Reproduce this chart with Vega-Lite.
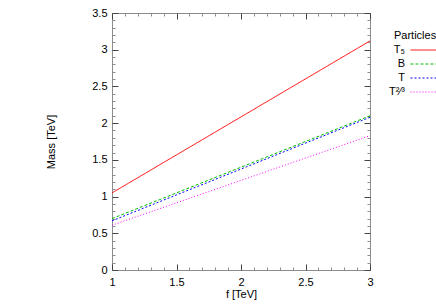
{
  "$schema": "https://vega.github.io/schema/vega-lite/v6.json",
  "width": 258,
  "height": 257,
  "autosize": "none",
  "padding": {"left": 112, "top": 13, "right": 66, "bottom": 35},
  "config": {
    "font": "Liberation Sans",
    "view": {"stroke": "#8c8c8c", "strokeWidth": 1},
    "axis": {"labelFontSize": 11, "titleFontSize": 11, "titleFontWeight": "normal", "labelColor": "#000", "titleColor": "#000", "domain": false, "grid": false},
    "legend": {
      "labelFontSize": 11, "titleFontSize": 11, "titleFontWeight": "normal",
      "symbolType": "M-2,0H2", "symbolSize": 169, "symbolStrokeWidth": 1, "symbolOffset": 22.5, "symbolFillColor": "transparent",
      "labelAlign": "right", "labelOffset": -25.5, "rowPadding": 2, "titlePadding": 2
    }
  },
  "data": {
    "values": [
      {"particle": "T5", "f": 1, "mass": 1.05},
      {"particle": "T5", "f": 2, "mass": 2.085},
      {"particle": "T5", "f": 3, "mass": 3.12},
      {"particle": "B", "f": 1, "mass": 0.70},
      {"particle": "B", "f": 2, "mass": 1.40},
      {"particle": "B", "f": 3, "mass": 2.10},
      {"particle": "T", "f": 1, "mass": 0.67},
      {"particle": "T", "f": 2, "mass": 1.375},
      {"particle": "T", "f": 3, "mass": 2.08},
      {"particle": "T2/3", "f": 1, "mass": 0.61},
      {"particle": "T2/3", "f": 2, "mass": 1.22},
      {"particle": "T2/3", "f": 3, "mass": 1.83}
    ]
  },
  "layer": [
    {
      "mark": {"type": "line", "strokeWidth": 1, "clip": true},
      "encoding": {
        "x": {
          "field": "f", "type": "quantitative",
          "scale": {"domain": [1, 3], "nice": false, "zero": false},
          "axis": {
            "orient": "bottom", "title": "f [TeV]", "titlePadding": 1,
            "values": [1,1.1,1.2,1.3,1.4,1.5,1.6,1.7,1.8,1.9,2,2.1,2.2,2.3,2.4,2.5,2.6,2.7,2.8,2.9,3],
            "format": "~g",
            "labelExpr": "abs(datum.value*2-round(datum.value*2))<0.001 ? datum.label : ''",
            "tickSize": {"condition": {"test": "abs(datum.value*2-round(datum.value*2))<0.001", "value": -6}, "value": -3},
            "tickColor": {"condition": {"test": "abs(datum.value*2-round(datum.value*2))<0.001", "value": "#444"}, "value": "#8c8c8c"},
            "labelPadding": 12, "labelFlush": false
          }
        },
        "y": {
          "field": "mass", "type": "quantitative",
          "scale": {"domain": [0, 3.5], "nice": false},
          "axis": {
            "orient": "left", "title": "Mass [TeV]", "titlePadding": 35,
            "values": [0,0.1,0.2,0.3,0.4,0.5,0.6,0.7,0.8,0.9,1,1.1,1.2,1.3,1.4,1.5,1.6,1.7,1.8,1.9,2,2.1,2.2,2.3,2.4,2.5,2.6,2.7,2.8,2.9,3,3.1,3.2,3.3,3.4,3.5],
            "format": "~g",
            "labelExpr": "abs(datum.value*2-round(datum.value*2))<0.001 ? datum.label : ''",
            "tickSize": {"condition": {"test": "abs(datum.value*2-round(datum.value*2))<0.001", "value": -6}, "value": -3},
            "tickColor": {"condition": {"test": "abs(datum.value*2-round(datum.value*2))<0.001", "value": "#444"}, "value": "#8c8c8c"},
            "labelPadding": 11, "labelFlush": false
          }
        },
        "color": {
          "field": "particle", "type": "nominal",
          "scale": {"domain": ["T5", "B", "T", "T2/3"], "range": ["#ff0000", "#00c000", "#0000ff", "#ff00ff"]},
          "legend": {
            "title": "Particles", "orient": "none", "legendX": 282, "legendY": 17,
            "labelExpr": "datum.label == 'T5' ? 'T₅' : datum.label == 'T2/3' ? 'T²⁄³' : datum.label",
            "encode": {"symbols": {"update": {"strokeDash": {"scale": "strokeDash", "field": "value"}}}}
          }
        },
        "strokeDash": {
          "field": "particle", "type": "nominal",
          "scale": {"domain": ["T5", "B", "T", "T2/3"], "range": [[1, 0], [3, 2], [2, 2], [1, 2]]},
          "legend": null
        }
      }
    },
    {
      "mark": {"type": "point", "opacity": 0},
      "encoding": {
        "x": {
          "field": "f", "type": "quantitative",
          "axis": {
            "orient": "top", "title": null, "labels": false,
            "values": [1,1.1,1.2,1.3,1.4,1.5,1.6,1.7,1.8,1.9,2,2.1,2.2,2.3,2.4,2.5,2.6,2.7,2.8,2.9,3],
            "tickSize": {"condition": {"test": "abs(datum.value*2-round(datum.value*2))<0.001", "value": -6}, "value": -3},
            "tickColor": {"condition": {"test": "abs(datum.value*2-round(datum.value*2))<0.001", "value": "#444"}, "value": "#8c8c8c"}
          }
        },
        "y": {
          "field": "mass", "type": "quantitative",
          "axis": {
            "orient": "right", "title": null, "labels": false,
            "values": [0,0.1,0.2,0.3,0.4,0.5,0.6,0.7,0.8,0.9,1,1.1,1.2,1.3,1.4,1.5,1.6,1.7,1.8,1.9,2,2.1,2.2,2.3,2.4,2.5,2.6,2.7,2.8,2.9,3,3.1,3.2,3.3,3.4,3.5],
            "tickSize": {"condition": {"test": "abs(datum.value*2-round(datum.value*2))<0.001", "value": -6}, "value": -3},
            "tickColor": {"condition": {"test": "abs(datum.value*2-round(datum.value*2))<0.001", "value": "#444"}, "value": "#8c8c8c"}
          }
        }
      }
    }
  ],
  "resolve": {"axis": {"x": "independent", "y": "independent"}}
}
